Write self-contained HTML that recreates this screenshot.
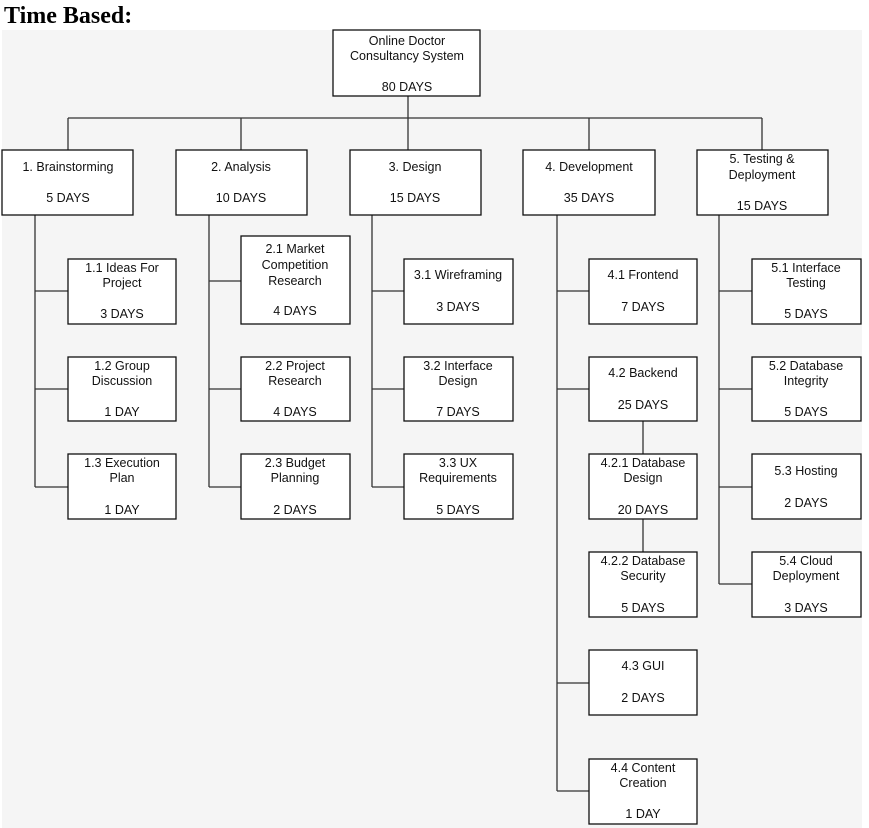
<!DOCTYPE html>
<html><head><meta charset="utf-8"><style>
body{margin:0;background:#fff;width:869px;height:828px;overflow:hidden}
svg{display:block}
text{font-family:"Liberation Sans",Arial,sans-serif;font-size:12.5px;fill:#111;text-anchor:middle}
.t{font-family:"Liberation Serif",serif;font-size:24px;font-weight:bold;text-anchor:start;fill:#000}
rect{fill:#fff;stroke:#111;stroke-width:1.3}
line{stroke:#333;stroke-width:1.3}
</style></head><body>
<svg width="869" height="828" xmlns="http://www.w3.org/2000/svg">
<rect x="2" y="30" width="860" height="800" style="fill:#f5f5f5;stroke:none"/>
<text class="t" x="4" y="23">Time Based:</text>
<!-- connectors -->
<line x1="408" y1="96" x2="408" y2="150"/>
<line x1="68" y1="118" x2="762" y2="118"/>
<line x1="68" y1="118" x2="68" y2="150"/>
<line x1="241" y1="118" x2="241" y2="150"/>
<line x1="589" y1="118" x2="589" y2="150"/>
<line x1="762" y1="118" x2="762" y2="150"/>
<line x1="35" y1="215" x2="35" y2="487"/>
<line x1="35" y1="291" x2="68" y2="291"/><line x1="35" y1="389" x2="68" y2="389"/><line x1="35" y1="487" x2="68" y2="487"/>
<line x1="209" y1="215" x2="209" y2="487"/>
<line x1="209" y1="281" x2="241" y2="281"/><line x1="209" y1="389" x2="241" y2="389"/><line x1="209" y1="487" x2="241" y2="487"/>
<line x1="372" y1="215" x2="372" y2="487"/>
<line x1="372" y1="291" x2="404" y2="291"/><line x1="372" y1="389" x2="404" y2="389"/><line x1="372" y1="487" x2="404" y2="487"/>
<line x1="557" y1="215" x2="557" y2="791"/>
<line x1="557" y1="291" x2="589" y2="291"/><line x1="557" y1="389" x2="589" y2="389"/><line x1="557" y1="683" x2="589" y2="683"/><line x1="557" y1="791" x2="589" y2="791"/>
<line x1="643" y1="421" x2="643" y2="454"/><line x1="643" y1="519" x2="643" y2="552"/>
<line x1="719" y1="215" x2="719" y2="584"/>
<line x1="719" y1="291" x2="752" y2="291"/><line x1="719" y1="389" x2="752" y2="389"/><line x1="719" y1="487" x2="752" y2="487"/><line x1="719" y1="584" x2="752" y2="584"/>
<!-- root -->
<rect x="333" y="30" width="147" height="66"/>
<text x="407" y="45">Online Doctor</text><text x="407" y="60">Consultancy System</text><text x="407" y="91">80 DAYS</text>
<!-- level 1 -->
<rect x="2" y="150" width="131" height="65"/><text x="68" y="171">1. Brainstorming</text><text x="68" y="202">5 DAYS</text>
<rect x="176" y="150" width="131" height="65"/><text x="241" y="171">2. Analysis</text><text x="241" y="202">10 DAYS</text>
<rect x="350" y="150" width="131" height="65"/><text x="415" y="171">3. Design</text><text x="415" y="202">15 DAYS</text>
<rect x="523" y="150" width="132" height="65"/><text x="589" y="171">4. Development</text><text x="589" y="202">35 DAYS</text>
<rect x="697" y="150" width="131" height="65"/><text x="762" y="163">5. Testing &amp;</text><text x="762" y="179">Deployment</text><text x="762" y="210">15 DAYS</text>
<!-- col1 -->
<rect x="68" y="259" width="108" height="65"/><text x="122" y="272">1.1 Ideas For</text><text x="122" y="287">Project</text><text x="122" y="318">3 DAYS</text>
<rect x="68" y="357" width="108" height="64"/><text x="122" y="370">1.2 Group</text><text x="122" y="385">Discussion</text><text x="122" y="416">1 DAY</text>
<rect x="68" y="454" width="108" height="65"/><text x="122" y="467">1.3 Execution</text><text x="122" y="482">Plan</text><text x="122" y="514">1 DAY</text>
<!-- col2 -->
<rect x="241" y="236" width="109" height="88"/><text x="295" y="253">2.1 Market</text><text x="295" y="269">Competition</text><text x="295" y="285">Research</text><text x="295" y="315">4 DAYS</text>
<rect x="241" y="357" width="109" height="64"/><text x="295" y="370">2.2 Project</text><text x="295" y="385">Research</text><text x="295" y="416">4 DAYS</text>
<rect x="241" y="454" width="109" height="65"/><text x="295" y="467">2.3 Budget</text><text x="295" y="482">Planning</text><text x="295" y="514">2 DAYS</text>
<!-- col3 -->
<rect x="404" y="259" width="109" height="65"/><text x="458" y="279">3.1 Wireframing</text><text x="458" y="311">3 DAYS</text>
<rect x="404" y="357" width="109" height="64"/><text x="458" y="370">3.2 Interface</text><text x="458" y="385">Design</text><text x="458" y="416">7 DAYS</text>
<rect x="404" y="454" width="109" height="65"/><text x="458" y="467">3.3 UX</text><text x="458" y="482">Requirements</text><text x="458" y="514">5 DAYS</text>
<!-- col4 -->
<rect x="589" y="259" width="108" height="65"/><text x="643" y="279">4.1 Frontend</text><text x="643" y="311">7 DAYS</text>
<rect x="589" y="357" width="108" height="64"/><text x="643" y="377">4.2 Backend</text><text x="643" y="409">25 DAYS</text>
<rect x="589" y="454" width="108" height="65"/><text x="643" y="467">4.2.1 Database</text><text x="643" y="482">Design</text><text x="643" y="514">20 DAYS</text>
<rect x="589" y="552" width="108" height="65"/><text x="643" y="565">4.2.2 Database</text><text x="643" y="580">Security</text><text x="643" y="612">5 DAYS</text>
<rect x="589" y="650" width="108" height="65"/><text x="643" y="670">4.3 GUI</text><text x="643" y="702">2 DAYS</text>
<rect x="589" y="759" width="108" height="65"/><text x="643" y="772">4.4 Content</text><text x="643" y="787">Creation</text><text x="643" y="818">1 DAY</text>
<!-- col5 -->
<rect x="752" y="259" width="109" height="65"/><text x="806" y="272">5.1 Interface</text><text x="806" y="287">Testing</text><text x="806" y="318">5 DAYS</text>
<rect x="752" y="357" width="109" height="64"/><text x="806" y="370">5.2 Database</text><text x="806" y="385">Integrity</text><text x="806" y="416">5 DAYS</text>
<rect x="752" y="454" width="109" height="65"/><text x="806" y="475">5.3 Hosting</text><text x="806" y="507">2 DAYS</text>
<rect x="752" y="552" width="109" height="65"/><text x="806" y="565">5.4 Cloud</text><text x="806" y="580">Deployment</text><text x="806" y="612">3 DAYS</text>
</svg>
</body></html>
